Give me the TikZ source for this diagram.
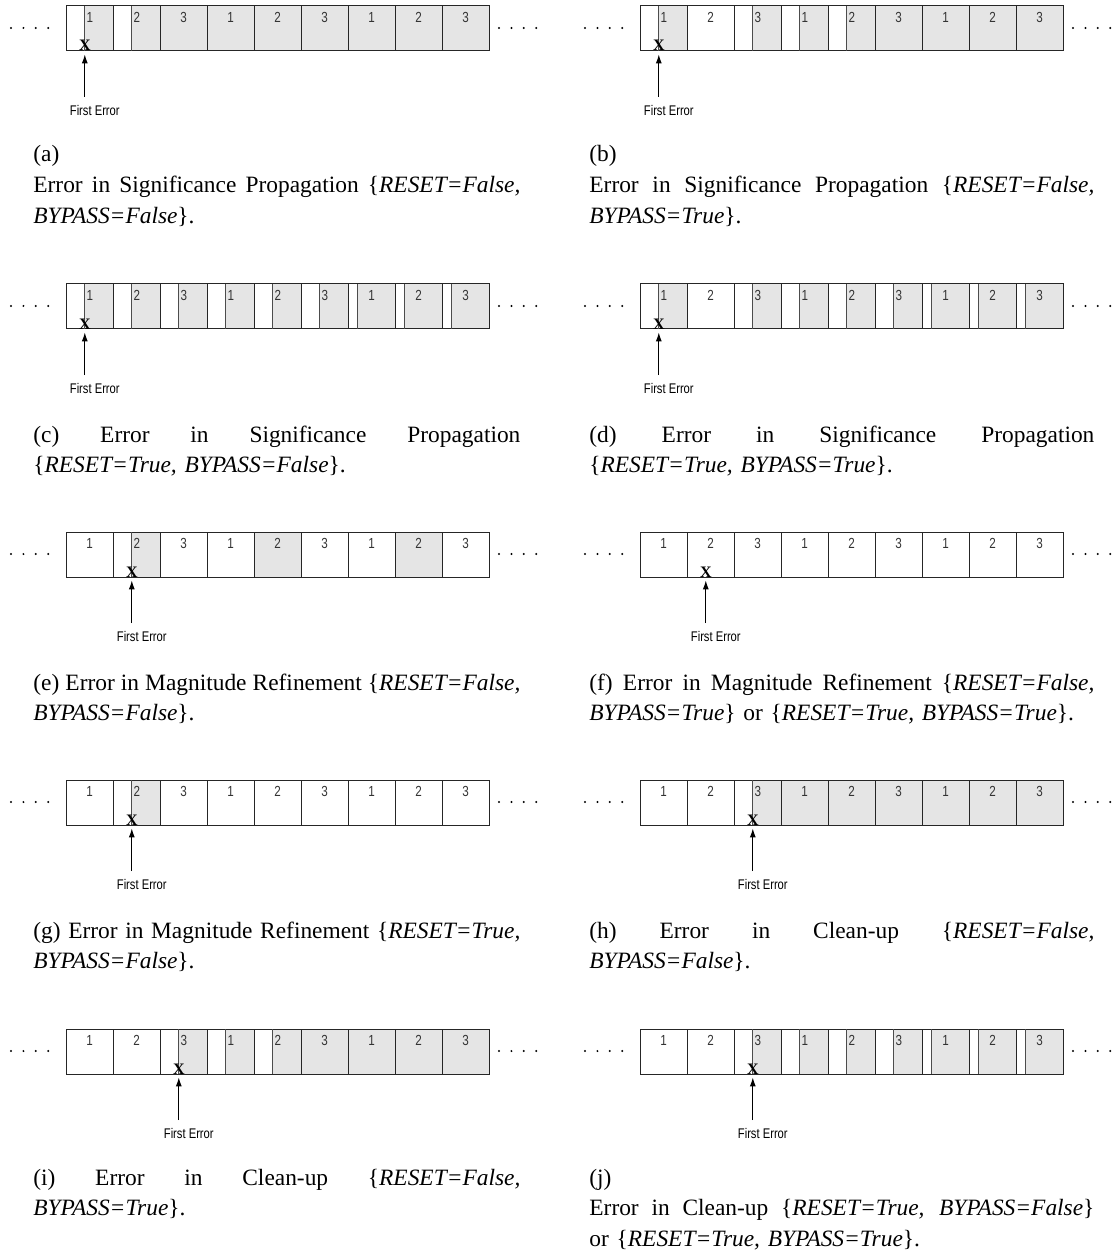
\documentclass[tikz,border=0pt]{standalone}
\usepackage{fontspec}
\setmainfont{Liberation Serif}
\newfontfamily\narrowsans[FakeStretch=0.8]{Liberation Sans}
\usetikzlibrary{arrows.meta}
\hyphenpenalty=10000
\exhyphenpenalty=10000
\newcommand\fullline[1]{\makebox[\linewidth][s]{\spaceskip=0.25em plus 1em minus 0.1em\relax #1}}

\begin{document}
\begin{tikzpicture}[
  x=0.5pt, y=-0.5pt,
  cellbox/.style={draw=black!85, line width=0.5pt},
  shade/.style={fill=black!10},
  splitline/.style={draw=black!70, line width=0.5pt},
  digit/.style={font=\narrowsans\fontsize{7.3}{8}\selectfont, text=black!80, inner sep=0pt},
  errmark/.style={font=\fontsize{8}{8}\selectfont\bfseries, inner sep=0pt, anchor=base},
  errlabel/.style={font=\narrowsans\fontsize{7}{8}\selectfont, inner xsep=0pt, inner ysep=4pt, anchor=north},
  arr/.style={-{Latex[length=4.5pt,width=3pt]}, line width=0.5pt, shorten >=1.5pt},
  captext/.style={font=\fontsize{11.7pt}{15.3pt}\selectfont, inner sep=0pt, anchor=base west},
  lcap/.style={captext, text width=243.5pt},
  rcap/.style={captext, text width=252.5pt}
]
  \useasboundingbox (0,0) rectangle (1112,1251);

  % Strips: name / left / top / error cell / cell states
  % 0 = empty, 1 = shaded, 2 = shaded from 0.4, 3 = shaded from 0.2
  \foreach \s/\sx/\sy/\k/\cells in {
      a/66/6/0/{2,2,1,1,1,1,1,1,1},
      b/640/6/0/{2,0,2,2,2,1,1,1,1},
      c/66/284/0/{2,2,2,2,2,2,3,3,3},
      d/640/284/0/{2,0,2,2,2,2,3,3,3},
      e/66/532/1/{0,2,0,0,1,0,0,1,0},
      f/640/532/1/{0,0,0,0,0,0,0,0,0},
      g/66/780/1/{0,2,0,0,0,0,0,0,0},
      h/640/780/2/{0,0,2,1,1,1,1,1,1},
      i/66/1029/2/{0,0,2,2,2,1,1,1,1},
      j/640/1029/2/{0,0,2,2,2,2,3,3,3}} {
    \foreach \c [count=\i from 0] in \cells {
      \pgfmathsetmacro\cx{\sx+47*\i}
      \pgfmathsetmacro\fs{{1,0,0.4,0.2}[\c]}
      \pgfmathtruncatemacro\lab{mod(\i,3)+1}
      \ifnum\c>0 \fill[shade] (\cx+47*\fs,\sy) rectangle (\cx+47,\sy+45); \fi
      \draw[cellbox] (\cx,\sy) rectangle (\cx+47,\sy+45);
      \ifnum\c>1 \draw[splitline] (\cx+47*\fs,\sy) -- (\cx+47*\fs,\sy+45); \fi
      \ifnum\c=2
        \node[digit, anchor=north west] (d-\s-\i) at (\cx+47*\fs+1.5,\sy+6) {\lab};
      \else
        \node[digit, anchor=north] (d-\s-\i) at (\cx+23.5,\sy+6) {\lab};
      \fi
    }
    % dots on both sides
    \foreach \d in {0,...,3} {
      \fill (\sx-55+12.4*\d,\sy+22) circle (1.1);
      \fill (\sx+433+12.4*\d,\sy+22) circle (1.1);
    }
    % error mark
    \node[errmark] (x-\s) at ({\sx+47*(\k+0.4)},\sy+45) {X};
    \node[errlabel] (fe-\s) at ({\sx+47*(\k+0.4)+10},\sy+91) {First Error};
    \draw[arr] (x-\s |- fe-\s.north) -- (x-\s.south);
  }

  % Captions
  \node[lcap] (cap-a) at (33,162) {(a)\\\fullline{Error in Significance Propagation \{\textit{RESET=False,}}\\\textit{BYPASS=False}\}.};
  \node[rcap] (cap-b) at (589,162) {(b)\\\fullline{Error in Significance Propagation \{\textit{RESET=False,}}\\\textit{BYPASS=True}\}.};
  \node[lcap] (cap-c) at (33,442) {\fullline{(c) Error in Significance Propagation}\\\{\textit{RESET=True, BYPASS=False}\}.};
  \node[rcap] (cap-d) at (589,442) {\fullline{(d) Error in Significance Propagation}\\\{\textit{RESET=True, BYPASS=True}\}.};
  \node[lcap] (cap-e) at (33,690) {\fullline{(e) Error in Magnitude Refinement \{\textit{RESET=False,}}\\\textit{BYPASS=False}\}.};
  \node[rcap] (cap-f) at (589,690) {\fullline{(f) Error in Magnitude Refinement \{\textit{RESET=False,}}\\\textit{BYPASS=True}\} or \{\textit{RESET=True, BYPASS=True}\}.};
  \node[lcap] (cap-g) at (33,938) {\fullline{(g) Error in Magnitude Refinement \{\textit{RESET=True,}}\\\textit{BYPASS=False}\}.};
  \node[rcap] (cap-h) at (589,938) {\fullline{(h) Error in Clean-up \{\textit{RESET=False,}}\\\textit{BYPASS=False}\}.};
  \node[lcap] (cap-i) at (33,1185) {\fullline{(i) Error in Clean-up \{\textit{RESET=False,}}\\\textit{BYPASS=True}\}.};
  \node[rcap] (cap-j) at (589,1185) {(j)\\\fullline{Error in Clean-up \{\textit{RESET=True, BYPASS=False}\}}\\or \{\textit{RESET=True, BYPASS=True}\}.};
\end{tikzpicture}
\end{document}
